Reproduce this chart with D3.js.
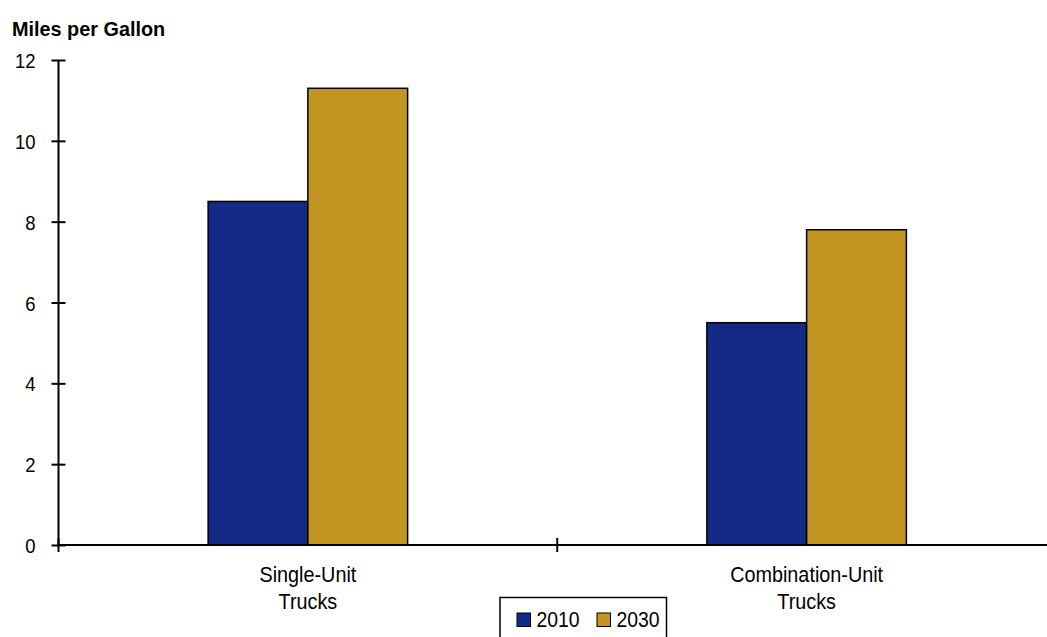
<!DOCTYPE html>
<html>
<head>
<meta charset="utf-8">
<script src="https://cdn.jsdelivr.net/npm/d3@7"></script>
<style>
  html, body { margin: 0; padding: 0; background: #fff; }
  svg { display: block; }
  text { font-family: "Liberation Sans", Arial, sans-serif; fill: #000; }
</style>
</head>
<body>
<svg id="chart" width="1047" height="637"></svg>
<script>
// Fuel economy by truck type
const categories = [["Single-Unit", "Trucks"], ["Combination-Unit", "Trucks"]];
const categoryKeys = ["single", "combination"];
const seriesNames = ["2010", "2030"];
const values2010 = [8.5, 5.5];
const values2030 = [11.3, 7.8];
const yTicks = [0, 2, 4, 6, 8, 10, 12];
const seriesColors = ["#132a87", "#c39623"];

// horizontal compression to give a condensed typeface look
const NARROW = 0.88;

const svg = d3.select("#chart");
const margin = { left: 58.5, top: 60, bottom: 545 };
const plotRight = 1056;

const y = d3.scaleLinear().domain([0, 12]).range([margin.bottom, margin.top]);
const x0 = d3.scaleBand().domain(categoryKeys).range([margin.left, plotRight]).padding(0);
const x1 = d3.scaleBand().domain(seriesNames).range([0, x0.bandwidth()]).paddingInner(0).paddingOuter(1.5);

const seriesValues = [values2010, values2030];
const barData = [];
categoryKeys.forEach((c, i) => {
  seriesNames.forEach((s, j) => {
    barData.push({ cat: c, series: s, value: seriesValues[j][i], color: seriesColors[j] });
  });
});

// Bars
svg.append("g").selectAll("rect").data(barData).join("rect")
  .attr("x", d => x0(d.cat) + x1(d.series))
  .attr("y", d => y(d.value))
  .attr("width", x1.bandwidth())
  .attr("height", d => y(0) - y(d.value))
  .attr("fill", d => d.color)
  .attr("stroke", "#000")
  .attr("stroke-width", 1.5);

// Y axis with ticks crossing the line
const yAxis = svg.append("g")
  .attr("transform", `translate(${margin.left},0)`)
  .call(d3.axisLeft(y).tickValues(yTicks).tickSize(7).tickFormat(d3.format("d")));
yAxis.select(".domain").attr("stroke", "#000").attr("stroke-width", 2).attr("d", `M0,${margin.top}V${margin.bottom}`);
yAxis.selectAll(".tick line").attr("x1", -7).attr("x2", 7).attr("stroke", "#000").attr("stroke-width", 2);
yAxis.selectAll(".tick text")
  .attr("x", null).attr("dy", null)
  .attr("font-size", 21)
  .attr("text-anchor", "end")
  .attr("transform", `translate(-23,7.5) scale(${NARROW},1)`)
  .style("font-family", '"Liberation Sans", Arial, sans-serif');

// X axis line and category boundary ticks
const xAxis = svg.append("g").attr("transform", `translate(0,${margin.bottom})`);
xAxis.append("line").attr("x1", margin.left).attr("x2", plotRight)
  .attr("stroke", "#000").attr("stroke-width", 2);
const boundaries = categoryKeys.map(c => x0(c)).concat([x0.range()[1]]);
xAxis.selectAll("line.bound").data(boundaries).join("line").attr("class", "bound")
  .attr("x1", d => d).attr("x2", d => d).attr("y1", -7).attr("y2", 7)
  .attr("stroke", "#000").attr("stroke-width", 2);

// Category labels (two lines)
const labels = xAxis.selectAll("text.cat").data(categoryKeys).join("text").attr("class", "cat")
  .attr("text-anchor", "middle").attr("font-size", 22.5)
  .attr("transform", d => `translate(${x0(d) + x0.bandwidth() / 2},0) scale(${NARROW},1)`);
labels.each(function(d, i) {
  const t = d3.select(this);
  categories[i].forEach((line, k) => {
    t.append("tspan").attr("x", 0).attr("y", 37 + k * 27.5).text(line);
  });
});

// Title
svg.append("text").attr("transform", "translate(12,36) scale(0.945,1)")
  .attr("font-size", 21).attr("font-weight", "bold")
  .text("Miles per Gallon");

// Legend
const legend = svg.append("g").attr("transform", "translate(500,597.5)");
legend.append("rect").attr("x", 0).attr("y", 0).attr("width", 166.5).attr("height", 60)
  .attr("fill", "#fff").attr("stroke", "#000").attr("stroke-width", 1.5);
const items = legend.selectAll("g.item").data(seriesNames).join("g").attr("class", "item")
  .attr("transform", (d, i) => `translate(${17 + i * 80},15.5)`);
items.append("rect").attr("width", 13.5).attr("height", 13.5)
  .attr("fill", (d, i) => seriesColors[i]).attr("stroke", "#000").attr("stroke-width", 1);
items.append("text").attr("font-size", 22)
  .attr("transform", `translate(19.5,13.7) scale(${NARROW},1)`)
  .text(d => d);
</script>
</body>
</html>
